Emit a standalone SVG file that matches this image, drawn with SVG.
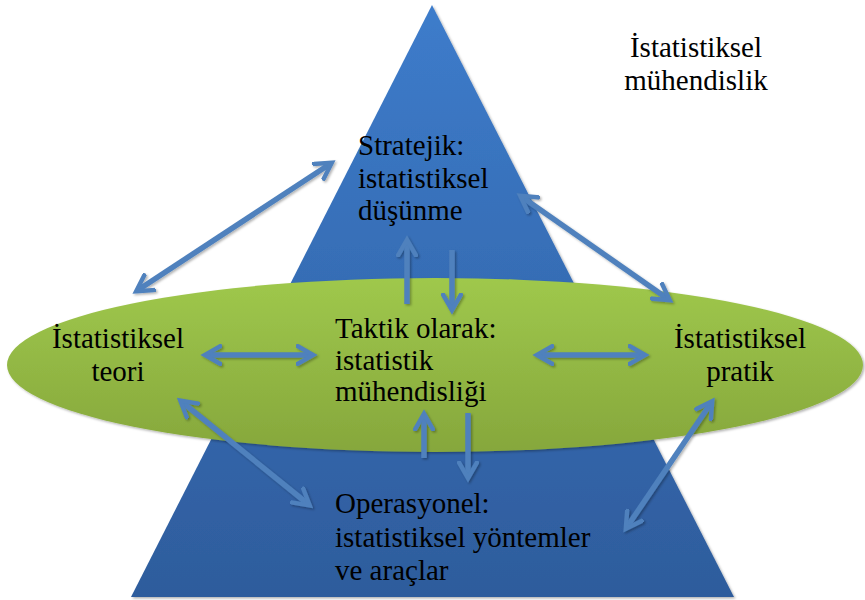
<svg xmlns="http://www.w3.org/2000/svg" width="865" height="600" viewBox="0 0 865 600">
<defs>
<linearGradient id="gTri" x1="0" y1="0" x2="0" y2="1">
<stop offset="0" stop-color="#3d7ccb"/>
<stop offset="1" stop-color="#2e5c9c"/>
</linearGradient>
<linearGradient id="gEll" x1="0" y1="0" x2="0" y2="1">
<stop offset="0" stop-color="#9fc84c"/>
<stop offset="1" stop-color="#86a73c"/>
</linearGradient>
<marker id="ah" viewBox="0 0 10 10" refX="7" refY="5" markerWidth="4" markerHeight="4" orient="auto-start-reverse" markerUnits="strokeWidth">
<path d="M1,1 L8,5 L1,9" fill="none" stroke="#4f81bd" stroke-width="2" stroke-linecap="square"/>
</marker>
<filter id="sh" x="-10%" y="-10%" width="120%" height="120%">
<feDropShadow dx="1.5" dy="1.5" stdDeviation="0.8" flood-color="#000" flood-opacity="0.3"/>
</filter>
</defs>
<style>
.t{font-family:'Liberation Serif',Tinos,'Times New Roman',serif;font-size:29px;fill:#000}
.c{text-anchor:middle}
.arr{stroke:#4f81bd;stroke-width:5.5;fill:none;marker-start:url(#ah);marker-end:url(#ah)}
.one{stroke:#4f81bd;stroke-width:5.5;fill:none;marker-end:url(#ah)}
</style>
<g id="pyramid">
<polygon points="432,5 131,597 734,597" fill="url(#gTri)" filter="url(#sh)"/>
</g>
<g id="ellipse">
<ellipse cx="435" cy="365" rx="428" ry="87" fill="url(#gEll)" filter="url(#sh)"/>
</g>
<g id="connectors" filter="url(#sh)">
<line class="arr" x1="138" y1="290" x2="330" y2="164"/>
<line class="one" x1="407" y1="304" x2="407" y2="242"/>
<line class="one" x1="452" y1="250" x2="452" y2="308"/>
<line class="arr" x1="522" y1="197" x2="668" y2="299"/>
<line class="arr" x1="207" y1="355" x2="311" y2="355"/>
<line class="arr" x1="539" y1="355" x2="643" y2="355"/>
<line class="arr" x1="182" y1="402" x2="308" y2="504"/>
<line class="one" x1="424" y1="458" x2="424" y2="416"/>
<line class="one" x1="468" y1="413" x2="468" y2="476"/>
<line class="arr" x1="711" y1="403" x2="627" y2="527"/>
</g>
<g class="t">
<g id="title">
<text class="c" x="696" y="57">İstatistiksel</text>
<text class="c" x="696" y="90">mühendislik</text>
</g>
<g id="strategic">
<text x="358" y="155">Stratejik:</text>
<text x="358" y="188">istatistiksel</text>
<text x="358" y="220">düşünme</text>
</g>
<g id="tactical">
<text x="335" y="338">Taktik olarak:</text>
<text x="335" y="370">istatistik</text>
<text x="335" y="401">mühendisliği</text>
</g>
<g id="theory">
<text class="c" x="118" y="348">İstatistiksel</text>
<text class="c" x="118" y="381">teori</text>
</g>
<g id="practice">
<text class="c" x="740" y="348">İstatistiksel</text>
<text class="c" x="740" y="381">pratik</text>
</g>
<g id="operational">
<text x="335" y="513">Operasyonel:</text>
<text x="335" y="547">istatistiksel yöntemler</text>
<text x="335" y="580">ve araçlar</text>
</g>
</g>
</svg>
